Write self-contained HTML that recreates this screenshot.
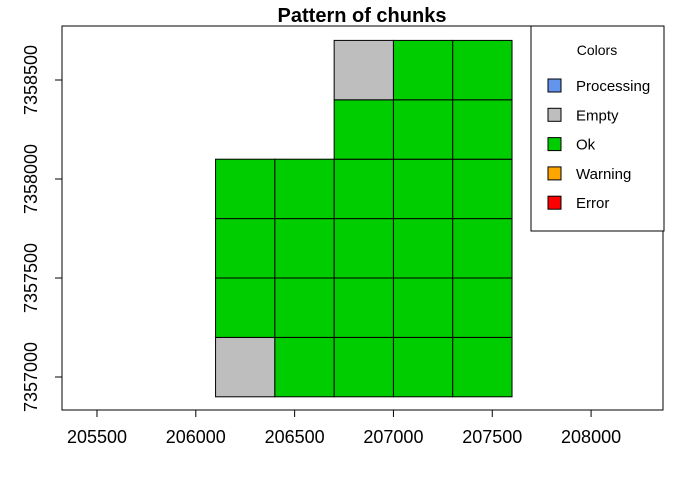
<!DOCTYPE html>
<html><head><meta charset="utf-8"><style>
body{margin:0;background:#fff;}
svg text{font-family:"Liberation Sans",Arial,sans-serif;}
</style></head><body>
<svg id="chart" width="690" height="473" xmlns="http://www.w3.org/2000/svg">
<rect width="690" height="473" fill="#fff"/>
<text x="362" y="22" text-anchor="middle" font-size="20" font-weight="bold">Pattern of chunks</text>
<g id="cells"></g>
<rect x="62" y="26" width="601" height="384" fill="none" stroke="#000"/>
<g id="axes"></g>
<g id="legend"></g>
</svg>
<script>
const chunkX=[206100,206400,206700,207000,207300, 206100,206400,206700,207000,207300, 206100,206400,206700,207000,207300, 206100,206400,206700,207000,207300, 206700,207000,207300, 206700,207000,207300];
const chunkY=[7356900,7356900,7356900,7356900,7356900, 7357200,7357200,7357200,7357200,7357200, 7357500,7357500,7357500,7357500,7357500, 7357800,7357800,7357800,7357800,7357800, 7358100,7358100,7358100, 7358400,7358400,7358400];
const chunkStatus=["Empty","Ok","Ok","Ok","Ok", "Ok","Ok","Ok","Ok","Ok", "Ok","Ok","Ok","Ok","Ok", "Ok","Ok","Ok","Ok","Ok", "Ok","Ok","Ok", "Empty","Ok","Ok"];
const chunkSize=300;
const xTicks=[205500,206000,206500,207000,207500,208000];
const yTicks=[7357000,7357500,7358000,7358500];
const legendLabels=["Processing","Empty","Ok","Warning","Error"];
const legendColors=["#6495ED","#BEBEBE","#00CD00","#FFA500","#FF0000"];
const colorOf={Processing:"#6495ED",Empty:"#BEBEBE",Ok:"#00CD00",Warning:"#FFA500",Error:"#FF0000"};
const NS="http://www.w3.org/2000/svg";
const sx=v=>195.8+(v-206000)*0.19764;
const sy=v=>377-(v-7357000)*0.198;
function mk(tag,attrs,parent,txt){const e=document.createElementNS(NS,tag);for(const k in attrs)e.setAttribute(k,attrs[k]);if(txt!==undefined)e.textContent=txt;parent.appendChild(e);return e;}
const cells=document.getElementById('cells');
for(let i=0;i<chunkX.length;i++){
  const x0=sx(chunkX[i]),x1=sx(chunkX[i]+chunkSize),y0=sy(chunkY[i]+chunkSize),y1=sy(chunkY[i]);
  const r=mk('rect',{x:x0,y:y0,width:x1-x0,height:y1-y0,fill:colorOf[chunkStatus[i]],stroke:'#000','stroke-width':1},cells);
  
  
}
const axes=document.getElementById('axes');
mk('line',{x1:sx(xTicks[0]),x2:sx(xTicks[xTicks.length-1]),y1:410,y2:410,stroke:'#000'},axes);
xTicks.forEach(t=>{const x=sx(t);mk('line',{x1:x,x2:x,y1:410,y2:417,stroke:'#000'},axes);
  const l=mk('text',{x:x,y:443,'text-anchor':'middle','font-size':18},axes,String(t));
  
  });
mk('line',{x1:62,x2:62,y1:sy(yTicks[0]),y2:sy(yTicks[yTicks.length-1]),stroke:'#000'},axes);
yTicks.forEach(t=>{const y=sy(t);mk('line',{x1:55,x2:62,y1:y,y2:y,stroke:'#000'},axes);
  const l=mk('text',{x:37,y:y,'text-anchor':'middle','font-size':18,transform:`rotate(-90 37 ${y})`},axes,String(t));
  
  });
const lg=document.getElementById('legend');
mk('rect',{x:531,y:26,width:133,height:205,fill:'#fff',stroke:'#000'},lg);
mk('text',{x:597,y:55,'text-anchor':'middle','font-size':14},lg,'Colors');
legendLabels.forEach((lab,i)=>{const y=86+i*29.3;
  const sw=mk('rect',{x:548,y:y-7,width:13,height:13,fill:legendColors[i],stroke:'#000'},lg);
  
  
  const t=mk('text',{x:576,y:y+5,'font-size':15},lg,lab);
  
  });
</script>
</body></html>
